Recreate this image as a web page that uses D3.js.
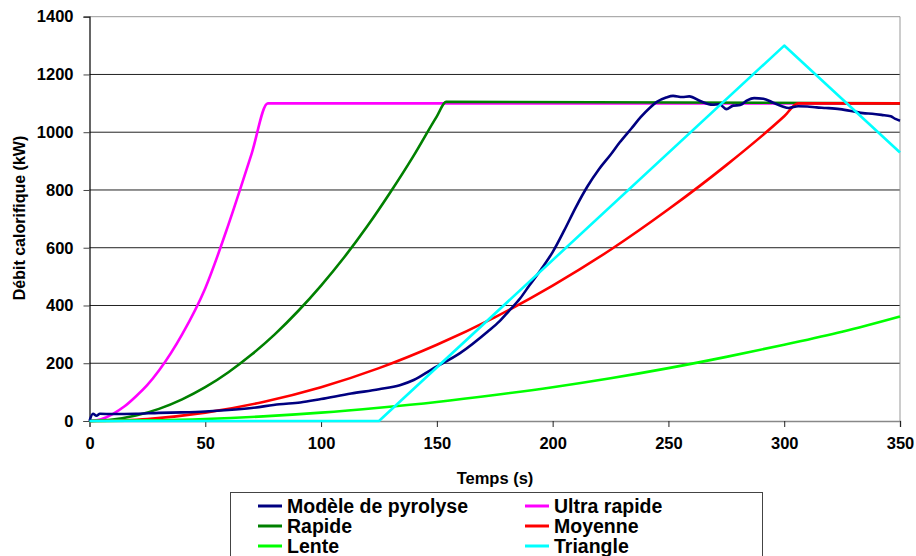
<!DOCTYPE html>
<html>
<head>
<meta charset="utf-8">
<script src="https://cdn.jsdelivr.net/npm/d3@7"></script>
<style>
  body { margin: 0; background: #fff; }
  svg { display: block; font-family: "Liberation Sans", Arial, sans-serif; font-weight: bold; }
</style>
</head>
<body>
<svg id="chart" width="916" height="556"></svg>
<script>
// series names, in legend order (row by row, two columns)
var seriesNames = ["Modèle de pyrolyse", "Ultra rapide", "Rapide", "Moyenne", "Lente", "Triangle"];
var seriesColors = ["#000080", "#ff00ff", "#008000", "#ff0000", "#00ff00", "#00ffff"];

// values: time (s) and heat release rate (kW)
var pyroT = [0, 1.5, 3, 4.5, 10, 20, 30, 40, 50, 60, 70, 82, 91, 100, 113, 125, 134, 140, 148, 160, 172, 177, 181, 186, 190, 195, 200, 205, 210, 215, 220, 225, 229, 234, 238, 242, 245, 249, 252, 256, 259, 264, 269, 272, 275, 278, 281, 284, 287, 291, 295, 299, 302, 306, 310, 314, 318, 324, 330, 334, 338, 342, 346, 348, 350];
var pyroV = [0, 25, 18, 25, 24, 25, 28, 30, 33, 38, 45, 58, 64, 76, 95, 110, 124, 142, 180, 235, 310, 345, 380, 425, 470, 525, 585, 660, 740, 812, 872, 922, 965, 1013, 1052, 1085, 1105, 1120, 1126, 1122, 1124, 1107, 1095, 1097, 1080, 1092, 1094, 1110, 1118, 1116, 1103, 1090, 1084, 1090, 1089, 1086, 1084, 1080, 1072, 1066, 1064, 1060, 1055, 1046, 1040];

var ultraT = [0, 5, 10, 15, 20, 25, 30, 40, 50, 60, 70, 77, 350];
var ultraV = [0, 6, 24, 50, 85, 125, 175, 300, 460, 680, 925, 1100, 1100];

var rapideT = [0, 10, 20, 30, 40, 50, 60, 70, 80, 90, 100, 110, 120, 130, 140, 150, 154, 350];
var rapideV = [0, 5, 19, 42, 75, 117, 169, 230, 300, 380, 469, 567, 675, 793, 919, 1055, 1105, 1100];

var moyenneT = [0, 25, 50, 75, 100, 125, 150, 175, 200, 225, 250, 275, 300, 306, 350];
var moyenneV = [0, 7, 29, 66, 117, 183, 264, 359, 469, 593, 733, 886, 1055, 1100, 1100];

var lenteT = [0, 25, 50, 75, 100, 125, 150, 175, 200, 225, 250, 275, 300, 325, 350];
var lenteV = [0, 2, 7, 16, 29, 46, 66, 90, 117, 148, 183, 222, 264, 309, 362];

var triangleT = [0, 125, 300, 350];
var triangleV = [0, 0, 1300, 930];

var xTicks = [0, 50, 100, 150, 200, 250, 300, 350];
var yTicks = [0, 200, 400, 600, 800, 1000, 1200, 1400];

var allT = [pyroT, ultraT, rapideT, moyenneT, lenteT, triangleT];
var allV = [pyroV, ultraV, rapideV, moyenneV, lenteV, triangleV];

var svg = d3.select("#chart");

var x = d3.scaleLinear().domain([0, 350]).range([89.5, 900]);
var y = d3.scaleLinear().domain([0, 1400]).range([421, 16.7]);

// gridlines
svg.append("g")
   .selectAll("line")
   .data(yTicks.filter(function(d) { return d > 0; }))
   .enter()
   .append("line")
   .attr("x1", x(0)).attr("x2", x(350))
   .attr("y1", function(d) { return y(d); })
   .attr("y2", function(d) { return y(d); })
   .style("stroke", function(d) { return d == 1400 ? "#999" : "#222"; })
   .style("stroke-width", 1);

// right border of plot area
svg.append("line")
   .attr("x1", x(350)).attr("x2", x(350))
   .attr("y1", y(1400)).attr("y2", y(0))
   .style("stroke", "#999").style("stroke-width", 1);

// x axis
var xAxis = svg.append("g")
   .attr("transform", "translate(0," + y(0) + ")")
   .call(d3.axisBottom(x).tickValues(xTicks).tickFormat(d3.format("d")).tickSize(6).tickPadding(10));
xAxis.select(".domain").style("stroke", "#888").style("stroke-width", 1.5);
xAxis.selectAll(".tick line").style("stroke", "#222");
xAxis.selectAll("text").style("font-size", "16.5px").style("font-weight", "bold").style("fill", "#000")
     .style("font-family", "Liberation Sans, Arial, sans-serif");

// y axis
var yAxis = svg.append("g")
   .attr("transform", "translate(" + x(0) + ",0)")
   .call(d3.axisLeft(y).tickValues(yTicks).tickFormat(d3.format("d")).tickSize(6).tickPadding(10));
yAxis.select(".domain").style("stroke", "#000").style("stroke-width", 1.2);
yAxis.selectAll(".tick line").style("stroke", "#444");
yAxis.selectAll("text").style("font-size", "16.5px").style("font-weight", "bold").style("fill", "#000")
     .style("font-family", "Liberation Sans, Arial, sans-serif");

// axis titles
svg.append("text")
   .attr("x", 495).attr("y", 484)
   .attr("text-anchor", "middle")
   .style("font-size", "16.5px")
   .text("Temps (s)");

svg.append("text")
   .attr("transform", "translate(25,218) rotate(-90)")
   .attr("text-anchor", "middle")
   .style("font-size", "16px")
   .text("Débit calorifique (kW)");

// curves
var smooth = d3.line()
   .curve(d3.curveMonotoneX)
   .x(function(d) { return x(d[0]); })
   .y(function(d) { return y(d[1]); });
var straight = d3.line()
   .x(function(d) { return x(d[0]); })
   .y(function(d) { return y(d[1]); });

var drawOrder = [1, 2, 3, 4, 0, 5];
drawOrder.forEach(function(i) {
    var pts = allT[i].map(function(t, k) { return [t, allV[i][k]]; });
    svg.append("path")
       .datum(pts)
       .attr("d", i == 5 ? straight : smooth)
       .style("fill", "none")
       .style("stroke", seriesColors[i])
       .style("stroke-width", 2.6)
       .style("stroke-linejoin", "round");
});

// legend
var legend = svg.append("g");
legend.append("rect")
   .attr("x", 230.5).attr("y", 492.5)
   .attr("width", 532).attr("height", 80)
   .style("fill", "#fff")
   .style("stroke", "#444")
   .style("stroke-width", 1);

var items = legend.selectAll("g.item")
   .data(seriesNames)
   .enter()
   .append("g")
   .attr("class", "item")
   .attr("transform", function(d, i) {
       return "translate(" + (i % 2 == 0 ? 258 : 525) + "," + (506 + Math.floor(i / 2) * 20) + ")";
   });

items.append("line")
   .attr("x1", 0).attr("x2", 24)
   .attr("y1", 0).attr("y2", 0)
   .style("stroke", function(d, i) { return seriesColors[i]; })
   .style("stroke-width", 3);

items.append("text")
   .attr("x", 29).attr("y", 7)
   .style("font-size", "19.5px")
   .text(function(d) { return d; });
</script>
</body>
</html>
